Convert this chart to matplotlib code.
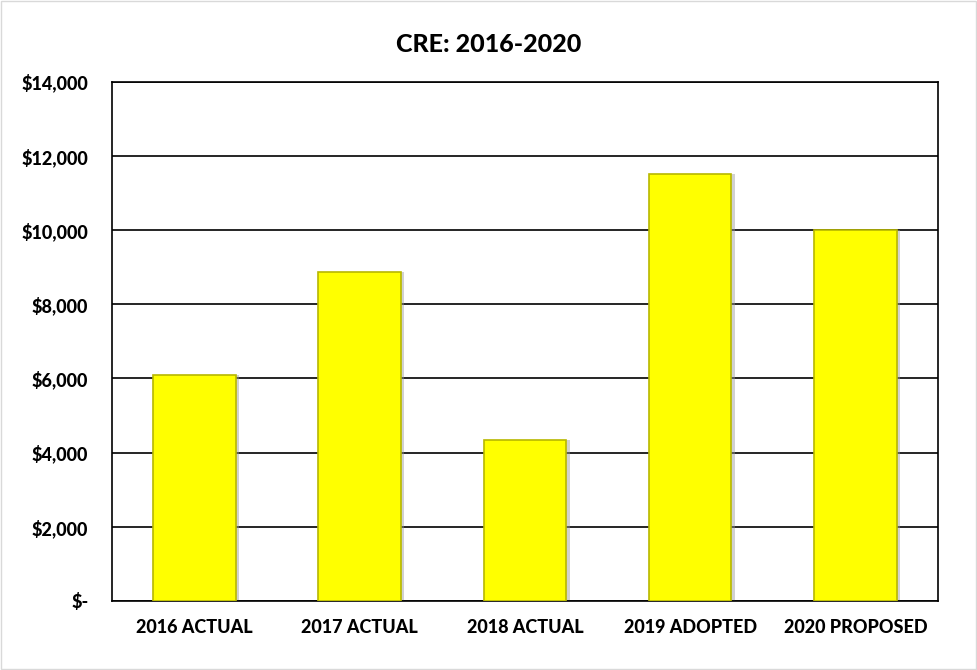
import matplotlib
matplotlib.use('Agg')
import matplotlib.pyplot as plt
from matplotlib.patches import Rectangle
from matplotlib.ticker import FuncFormatter

# CRE spending by year
categories = ['2016 ACTUAL', '2017 ACTUAL', '2018 ACTUAL', '2019 ADOPTED', '2020 PROPOSED']
values = [6100, 8880, 4350, 11500, 10000]
y_ticks = [0, 2000, 4000, 6000, 8000, 10000, 12000, 14000]

plt.rcParams['font.family'] = ['Lato', 'DejaVu Sans']

fig = plt.figure(figsize=(9.77, 6.70), dpi=100)
ax = fig.add_axes([0.1146, 0.103, 0.8454, 0.775])

x = list(range(len(categories)))

# soft drop shadow behind each bar
ax.bar([i + 0.02 for i in x], values, width=0.5, color='#9a9a9a', alpha=0.45, zorder=2)
ax.bar(x, values, width=0.5, color='#FFFF00', edgecolor='#B8B800', linewidth=1.2, zorder=3)

ax.set_xlim(-0.5, len(categories) - 0.5)
ax.set_ylim(0, 14000)
ax.set_yticks(y_ticks)
ax.yaxis.set_major_formatter(FuncFormatter(lambda v, p: '$-' if v == 0 else f'${v:,.0f}'))
ax.set_xticks(x)
ax.set_xticklabels(categories)
ax.tick_params(axis='both', length=0, labelsize=13)
ax.tick_params(axis='y', pad=17)
ax.tick_params(axis='x', pad=13)
for lbl in ax.get_xticklabels() + ax.get_yticklabels():
    lbl.set_fontweight('black')

ax.grid(axis='y', color='black', linewidth=1.2, zorder=1)
ax.set_axisbelow(True)
for s in ax.spines.values():
    s.set_color('black')
    s.set_linewidth(1.2)

fig.text(0.5, 0.933, 'CRE: 2016-2020', ha='center', va='center', fontsize=18, fontweight='black')

# chart border
fig.patches.append(Rectangle((0.001, 0.001), 0.998, 0.998, transform=fig.transFigure,
                             fill=False, edgecolor='#d9d9d9', linewidth=1))

fig.savefig('out.png', dpi=100)
